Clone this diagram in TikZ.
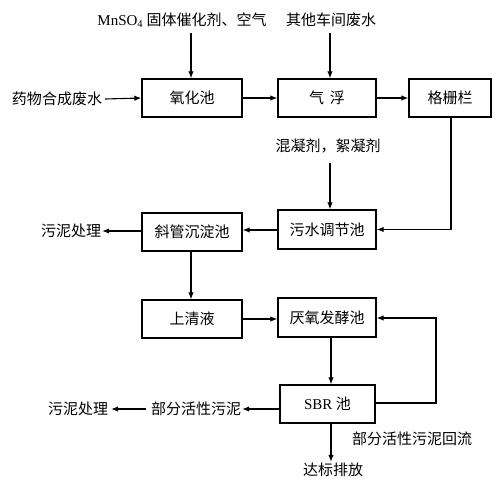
\documentclass[tikz,border=0pt]{standalone}
\usepackage{fontspec}
\setmainfont{Liberation Serif}
\newfontfamily\cjk{Noto Sans CJK SC}
\usetikzlibrary{arrows.meta,calc}
\begin{document}
\begin{tikzpicture}[x=1pt,y=-1pt,
  box/.style={draw,line width=1.4pt,minimum height=38pt,inner sep=0pt,font=\cjk\fontsize{15}{18}\selectfont},
  lbl/.style={inner sep=1pt,font=\cjk\fontsize{15}{18}\selectfont},
  arr/.style={line width=1.1pt,-{Latex[length=7pt,width=5.5pt]}},
  ln/.style={line width=1.1pt}]
\useasboundingbox[fill=white] (0,0) rectangle (500,498);
% boxes
\node[box,minimum width=100pt] (ox) at (192,98) {氧化池};
\node[box,minimum width=98pt] (fu) at (327,98) {气\hspace{0.4em}浮};
\node[box,minimum width=82pt] (gs) at (450,98) {格栅栏};
\node[box,minimum width=98pt,minimum height=39pt] (tj) at (327,229.5) {污水调节池};
\node[box,minimum width=100pt] (xg) at (192,232) {斜管沉淀池};
\node[box,minimum width=100pt] (sq) at (192,319) {上清液};
\node[box,minimum width=98pt,minimum height=39pt] (ya) at (327,317.5) {厌氧发酵池};
\node[box,minimum width=95pt] (sbr) at (327.5,404) {{\rmfamily SBR} 池};
% labels
\node[lbl] (in1) at (57,99) {药物合成废水};
\node[lbl] (t1) at (182,20) {{\rmfamily MnSO\textsubscript{4}} 固体催化剂、空气};
\node[lbl] (t2) at (331,20) {其他车间废水};
\node[lbl] (t3) at (328,146) {混凝剂，絮凝剂};
\node[lbl] (wn1) at (71,231) {污泥处理};
\node[lbl] (bf) at (196,409) {部分活性污泥};
\node[lbl] (wn2) at (78,409) {污泥处理};
\node[lbl] (hl) at (412,439) {部分活性污泥回流};
\node[lbl] (db) at (333,470) {达标排放};
% connectors
\coordinate (c1) at (191,33);
\coordinate (c2) at (330,33);
\coordinate (c3) at (330,163);
\coordinate (r1) at (451,229.5);
\coordinate (r2) at (436,403);
\draw[arr] ([xshift=2pt]in1.east) -- (ox.west);
\draw[arr] (c1) -- (c1 |- ox.north);
\draw[arr] (c2) -- (c2 |- fu.north);
\draw[arr] (ox) -- (fu);
\draw[arr] (fu) -- (gs);
\draw[arr] (r1 |- gs.south) -- (r1) -- (tj.east);
\draw[arr] (c3) -- (c3 |- tj.north);
\draw[arr] (tj.west |- 0,230) -- (xg.east |- 0,230);
\draw[arr] (xg.west |- 0,231) -- (wn1.east);
\draw[arr] ([xshift=-1pt]xg.south) -- ([xshift=-1pt]sq.north);
\draw[arr] (sq.east |- 0,319) -- (ya.west |- 0,319);
\draw[arr] ([xshift=4pt]ya.south) -- ([xshift=3.5pt]sbr.north);
\draw[arr] (sbr.east |- r2) -- (r2) -- (r2 |- 0,318) -- (ya.east |- 0,318);
\draw[arr] (sbr.west |- 0,409) -- (bf.east);
\draw[arr] ([xshift=-4pt]bf.west) -- ([xshift=2pt]wn2.east);
\draw[arr] ([xshift=3.5pt]sbr.south) -- ([xshift=-2pt]db.north);
\end{tikzpicture}
\end{document}
